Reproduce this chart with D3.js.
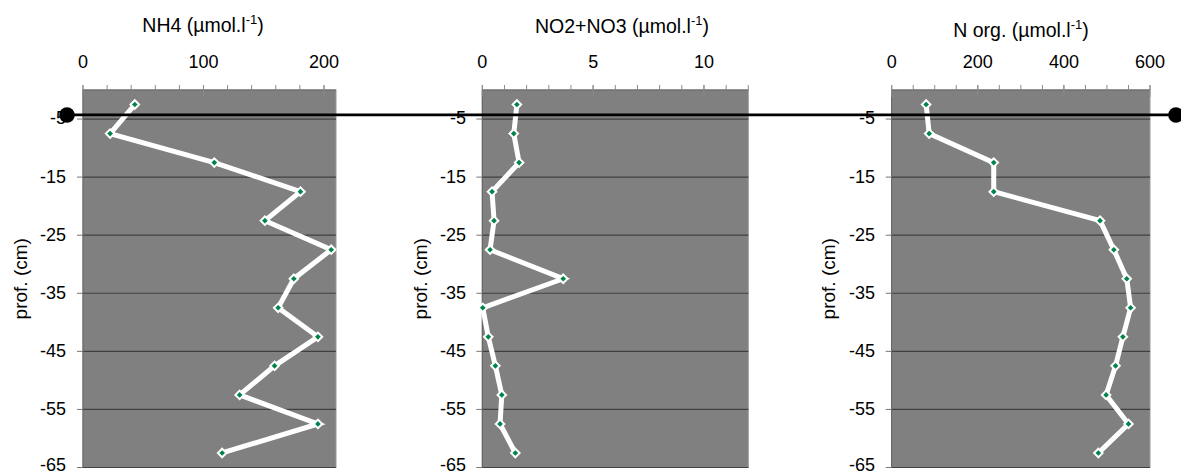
<!DOCTYPE html>
<html><head><meta charset="utf-8">
<script src="https://cdn.jsdelivr.net/npm/d3@7"></script>
<style>
body{margin:0;background:#fff;}
text{font-family:"Liberation Sans",Arial,sans-serif;fill:#000;}
</style></head>
<body><svg id="c" width="1181" height="475"></svg>
<script>
// ---- data ----
const depths = [-2.5,-7.5,-12.5,-17.5,-22.5,-27.5,-32.5,-37.5,-42.5,-47.5,-52.5,-57.5,-62.5];
const nh4    = [43,22.5,109,180.5,151,206,175,162,195,159,130,195,115.5];
const no2no3 = [1.56,1.42,1.66,0.44,0.53,0.35,3.65,0.02,0.27,0.59,0.88,0.80,1.49];
const norg   = [80,87,237,237,484,516,546,555,537,520,498,550,480];
const titles = ["NH4 (µmol.l", "NO2+NO3 (µmol.l", "N org.  (µmol.l"];
const xTicks1 = [0,100,200];
const xTicks2 = [0,5,10];
const xTicks3 = [0,200,400,600];
const yTicks = [-5,-15,-25,-35,-45,-55,-65];
const yLabel = "prof. (cm)";
const markerDepth = -4.3;

// ---- layout ----
const panels = [
  {vals:nh4, title:titles[0], ticks:xTicks1, max:210, minor:20, x0:83, x1:336, tx:203, ty:31.7, lx:21, yl:66},
  {vals:no2no3, title:titles[1], ticks:xTicks2, max:12, minor:1, x0:482.3, x1:748.3, tx:622, ty:33.3, lx:421, yl:466},
  {vals:norg, title:titles[2], ticks:xTicks3, max:600, minor:50, x0:891.7, x1:1150, tx:1021, ty:36.7, lx:829, yl:875}
];
const plotTop = 90, plotBottom = 467.5;
const svg = d3.select("#c");
const y = d3.scaleLinear().domain([0,-65]).range([plotTop,plotBottom]);

panels.forEach(p=>{
  const x = d3.scaleLinear().domain([0,p.max]).range([p.x0,p.x1]);
  const g = svg.append("g");
  g.append("rect").attr("x",p.x0).attr("y",plotTop).attr("width",p.x1-p.x0).attr("height",plotBottom-plotTop)
    .attr("fill","#808080").attr("stroke","#9a9a9a").attr("stroke-width",1);
  g.selectAll("line.grid").data(yTicks).join("line").attr("class","grid")
    .attr("x1",p.x0).attr("x2",p.x1).attr("y1",d=>y(d)).attr("y2",d=>y(d))
    .attr("stroke","#404040").attr("stroke-width",1.2);
  g.append("line").attr("x1",p.x0).attr("x2",p.x0).attr("y1",plotTop).attr("y2",plotBottom).attr("stroke","#5a5a5a");
  g.append("line").attr("x1",p.x0).attr("x2",p.x1).attr("y1",plotTop).attr("y2",plotTop).attr("stroke","#5a5a5a");
  g.selectAll("line.yt").data(yTicks).join("line").attr("class","yt")
    .attr("x1",p.x0-6).attr("x2",p.x0).attr("y1",d=>y(d)).attr("y2",d=>y(d)).attr("stroke","#777");
  g.selectAll("text.yl").data(yTicks).join("text").attr("class","yl")
    .attr("x",p.yl).attr("y",d=>Math.min(y(d)+5.4, 471)).attr("text-anchor","end")
    .attr("font-size",18).text(d=>d);
  const minors = d3.range(0,p.max+1e-9,p.minor);
  g.selectAll("line.mt").data(minors).join("line").attr("class","mt")
    .attr("x1",d=>x(d)).attr("x2",d=>x(d)).attr("y1",plotTop-5).attr("y2",plotTop).attr("stroke","#8a8a8a");
  g.selectAll("line.Mt").data(p.ticks).join("line").attr("class","Mt")
    .attr("x1",d=>x(d)).attr("x2",d=>x(d)).attr("y1",plotTop-5).attr("y2",plotTop+7).attr("stroke","#8a8a8a");
  g.selectAll("text.xl").data(p.ticks).join("text").attr("class","xl")
    .attr("x",d=>x(d)).attr("y",68).attr("text-anchor","middle").attr("font-size",18).text(d=>d);
  const t = g.append("text").attr("x",p.tx).attr("y",p.ty).attr("text-anchor","middle").attr("font-size",19.5);
  t.append("tspan").text(p.title);
  t.append("tspan").attr("font-size",13).attr("dy",-8).text("-1");
  t.append("tspan").attr("dy",8).text(")");
  g.append("text").attr("transform",`translate(${p.lx+6},${(plotTop+plotBottom)/2}) rotate(-90)`)
    .attr("text-anchor","middle").attr("font-size",19).text(yLabel);
  const pts = p.vals.map((v,i)=>[x(v),y(depths[i])]);
  g.append("path").attr("d",d3.line()(pts)).attr("fill","none").attr("stroke","#fff")
    .attr("stroke-width",5).attr("stroke-linejoin","miter");
  g.selectAll("rect.m").data(pts).join("rect").attr("class","m")
    .attr("x",-3).attr("y",-3).attr("width",6).attr("height",6)
    .attr("transform",d=>`translate(${d[0]},${d[1]}) rotate(45)`)
    .attr("fill","#00844a").attr("stroke","#fff").attr("stroke-width",2);
});

const ly = y(markerDepth);
svg.append("line").attr("x1",67).attr("x2",1176).attr("y1",ly).attr("y2",ly).attr("stroke","#000").attr("stroke-width",2.7);
svg.append("circle").attr("cx",67).attr("cy",ly).attr("r",7.8).attr("fill","#000");
svg.append("circle").attr("cx",1176).attr("cy",ly).attr("r",7.8).attr("fill","#000");
</script></body></html>
